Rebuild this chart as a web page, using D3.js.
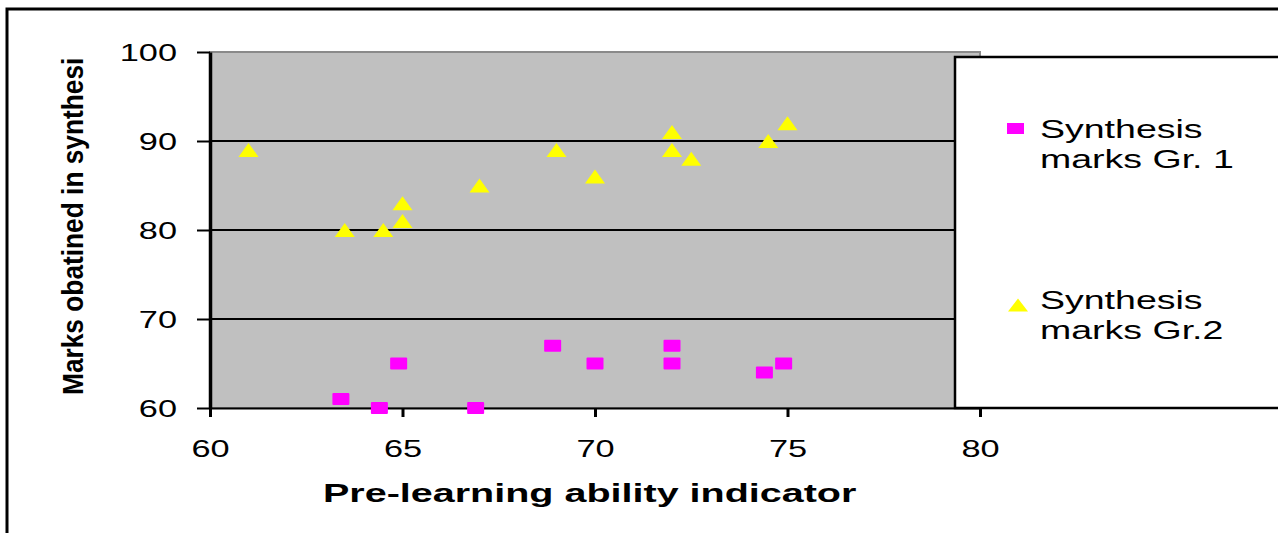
<!DOCTYPE html>
<html>
<head>
<meta charset="utf-8">
<script src="https://cdn.jsdelivr.net/npm/d3@7"></script>
<style>
  body { margin: 0; background: #fff; }
  svg { display: block; font-family: "Liberation Sans", Arial, sans-serif; }
</style>
</head>
<body>
<div class="chart"></div>
<script>
// data
var group1X = [63.4, 64.4, 64.9, 66.9, 68.9, 70, 72, 72, 74.4, 74.9],
    group1Y = [61, 60, 65, 60, 67, 65, 67, 65, 64, 65];
var group2X = [61, 63.5, 64.5, 65, 65, 67, 69, 70, 72, 72, 72.5, 74.5, 75],
    group2Y = [89, 80, 80, 83, 81, 85, 89, 86, 91, 89, 88, 90, 92];
var xTicks = [60, 65, 70, 75, 80],
    yTicks = [60, 70, 80, 90, 100];
var seriesNames = [["Synthesis", "marks Gr. 1"], ["Synthesis", "marks Gr.2"]];
var xTitle = "Pre-learning ability indicator",
    yTitle = "Marks obatined in synthesis";

var width = 1278,
    height = 533,
    plotLeft = 210,
    plotRight = 980,
    plotTop = 52,
    plotBottom = 408;

var svg = d3.select(".chart").append("svg")
    .attr("width", width)
    .attr("height", height);

var x = d3.scaleLinear().domain([60, 80]).range([plotLeft, plotRight]),
    y = d3.scaleLinear().domain([60, 100]).range([plotBottom, plotTop]);

// stretch text sideways like in the picture
function stretch(sel, k) {
    sel.each(function() {
        var w = this.getComputedTextLength();
        d3.select(this).attr("textLength", w * k).attr("lengthAdjust", "spacingAndGlyphs");
    });
}

// outer frame
svg.append("path")
    .attr("d", "M7," + height + "V9H" + width)
    .attr("fill", "none")
    .attr("stroke", "#000")
    .attr("stroke-width", 3);

// plot area
svg.append("rect")
    .attr("x", plotLeft).attr("y", plotTop)
    .attr("width", plotRight - plotLeft).attr("height", plotBottom - plotTop)
    .attr("fill", "#c0c0c0")
    .attr("stroke", "#8a8a8a")
    .attr("stroke-width", 2);

svg.append("g").selectAll("line")
    .data(yTicks.filter(function(d) { return d > 60 && d < 100; }))
    .enter().append("line")
    .attr("x1", plotLeft).attr("x2", plotRight)
    .attr("y1", function(d) { return y(d); })
    .attr("y2", function(d) { return y(d); })
    .attr("stroke", "#000")
    .attr("stroke-width", 2);

// axes
var yAxis = svg.append("g")
    .attr("transform", "translate(" + plotLeft + ",0)")
    .call(d3.axisLeft(y).tickValues(yTicks).tickSize(13).tickPadding(20).tickSizeOuter(0));
yAxis.select(".domain").attr("stroke-width", 3.5);
yAxis.selectAll(".tick line").attr("stroke-width", 2);
yAxis.selectAll("text")
    .attr("font-size", 24)
    .attr("font-family", "Liberation Sans, Arial, sans-serif")
    .attr("fill", "#000")
    .attr("dy", "0.36em")
    .call(stretch, 1.43);

var xAxis = svg.append("g")
    .attr("transform", "translate(0," + plotBottom + ")")
    .call(d3.axisBottom(x).tickValues(xTicks).tickSize(9).tickPadding(23).tickSizeOuter(0));
xAxis.select(".domain").attr("stroke-width", 2);
xAxis.selectAll(".tick line").attr("stroke-width", 3);
xAxis.selectAll("text")
    .attr("font-size", 24)
    .attr("font-family", "Liberation Sans, Arial, sans-serif")
    .attr("fill", "#000")
    .call(stretch, 1.43);

// markers
var sqW = 17, sqH = 12, triW = 20, triH = 14;

function triangle(cx, cy, w, h) {
    return "M" + (cx - w / 2) + "," + (cy + h / 2) + "L" + cx + "," + (cy - h / 2) + "L" + (cx + w / 2) + "," + (cy + h / 2) + "Z";
}

svg.append("g").selectAll("path")
    .data(d3.zip(group2X, group2Y))
    .enter().append("path")
    .attr("d", function(d) { return triangle(x(d[0]), y(d[1]), triW, triH); })
    .attr("fill", "#ffff00");

svg.append("g").selectAll("rect")
    .data(d3.zip(group1X, group1Y))
    .enter().append("rect")
    .attr("x", function(d) { return x(d[0]) - sqW / 2; })
    .attr("y", function(d) { return y(d[1]) - sqH / 2; })
    .attr("width", sqW).attr("height", sqH)
    .attr("rx", 1)
    .attr("fill", "#ff00ff");

// legend
svg.append("rect")
    .attr("x", 955).attr("y", 57)
    .attr("width", 400).attr("height", plotBottom - 57)
    .attr("fill", "#fff")
    .attr("stroke", "#000")
    .attr("stroke-width", 2.5);

var legendTop = [138, 309];
seriesNames.forEach(function(lines, i) {
    var g = svg.append("g");
    if (i === 0) {
        g.append("rect")
            .attr("x", 1007).attr("y", legendTop[i] - 15)
            .attr("width", 17).attr("height", 11)
            .attr("fill", "#ff00ff");
    } else {
        g.append("path")
            .attr("d", triangle(1018, legendTop[i] - 4, 20, 13))
            .attr("fill", "#ffff00");
    }
    g.selectAll("text")
        .data(lines)
        .enter().append("text")
        .attr("x", 1040)
        .attr("y", function(d, j) { return legendTop[i] + j * 30; })
        .attr("font-size", 25)
        .attr("fill", "#000")
        .text(function(d) { return d; })
        .call(stretch, 1.5);
});

// titles
svg.append("text")
    .attr("x", 323)
    .attr("y", 502)
    .attr("font-size", 25)
    .attr("font-weight", "bold")
    .text(xTitle)
    .call(stretch, 1.58);

svg.append("clipPath")
    .attr("id", "ytitle-clip")
    .append("rect")
    .attr("x", 0).attr("y", 57)
    .attr("width", 200).attr("height", 400);

svg.append("g")
    .attr("clip-path", "url(#ytitle-clip)")
    .append("text")
    .attr("transform", "translate(83,395) rotate(-90)")
    .attr("font-size", 29)
    .attr("font-weight", "bold")
    .attr("textLength", 352)
    .attr("lengthAdjust", "spacingAndGlyphs")
    .text(yTitle);
</script>
</body>
</html>
